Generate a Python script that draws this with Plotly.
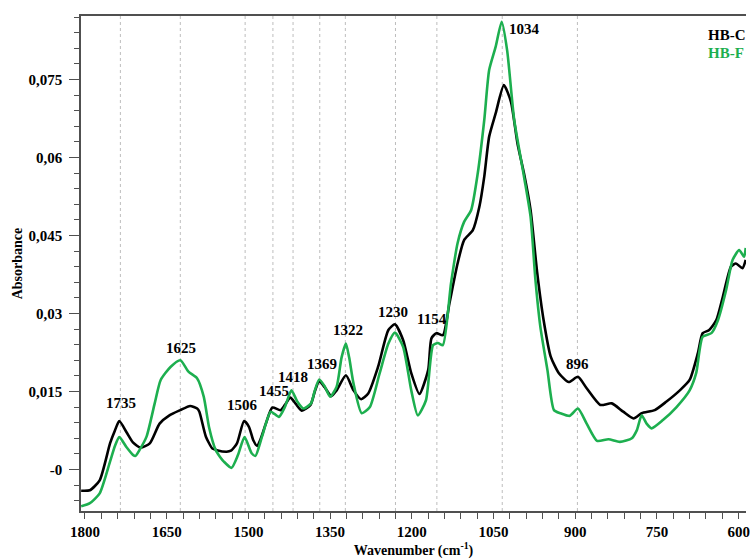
import plotly.graph_objects as go

# FTIR absorbance spectra (wavenumber in cm-1)
wn_hbc = [1807, 1791, 1773, 1754, 1745, 1737, 1724, 1712, 1698, 1681, 1663, 1645,
          1625, 1607, 1594, 1590, 1578, 1566, 1558, 1540, 1532, 1521, 1508, 1499,
          1491, 1484, 1477, 1468, 1456, 1441, 1433, 1423, 1413, 1402, 1386, 1378,
          1370, 1360, 1348, 1338, 1321, 1307, 1293, 1280, 1262, 1243, 1231, 1216,
          1201, 1186, 1170, 1164, 1155, 1143, 1131, 1116, 1104, 1088, 1076, 1067,
          1058, 1046, 1031, 1018, 1006, 994, 982, 970, 958, 945, 930, 912, 895,
          879, 854, 833, 812, 793, 778, 754, 733, 708, 690, 675, 666, 654, 641,
          629, 614, 605, 593, 587]
abs_hbc = [-0.0041, -0.0040, -0.0021, 0.0050, 0.0075, 0.0093, 0.0072, 0.0052,
           0.0042, 0.0050, 0.0088, 0.0104, 0.0114, 0.0122, 0.0117, 0.0111, 0.0063,
           0.0040, 0.0037, 0.0034, 0.0036, 0.0050, 0.0093, 0.0082, 0.0056, 0.0045,
           0.0060, 0.0088, 0.0119, 0.0114, 0.0124, 0.0138, 0.0126, 0.0113, 0.0124,
           0.0150, 0.0170, 0.0158, 0.0141, 0.0152, 0.0181, 0.0152, 0.0135, 0.0146,
           0.0197, 0.0268, 0.0279, 0.0249, 0.0185, 0.0145, 0.0191, 0.0252, 0.0262,
           0.0258, 0.0319, 0.0396, 0.0441, 0.0460, 0.0505, 0.0563, 0.0640, 0.0685,
           0.0739, 0.0707, 0.0627, 0.0569, 0.0499, 0.0380, 0.0287, 0.0217, 0.0185,
           0.0168, 0.0178, 0.0156, 0.0124, 0.0127, 0.0111, 0.0098, 0.0108, 0.0114,
           0.0130, 0.0152, 0.0172, 0.0223, 0.0262, 0.0268, 0.0287, 0.0332, 0.0390,
           0.0396, 0.0387, 0.0403]

wn_hbf = [1807, 1791, 1773, 1754, 1745, 1737, 1724, 1712, 1707, 1700, 1687, 1672,
          1661, 1643, 1625, 1610, 1594, 1582, 1572, 1560, 1552, 1545, 1531, 1519,
          1507, 1494, 1487, 1475, 1459, 1444, 1433, 1421, 1410, 1399, 1385, 1378,
          1370, 1360, 1350, 1338, 1329, 1321, 1315, 1307, 1292, 1277, 1259, 1243,
          1231, 1216, 1201, 1189, 1174, 1161, 1152, 1143, 1128, 1116, 1104, 1091,
          1079, 1067, 1058, 1046, 1035, 1025, 1012, 994, 982, 973, 964, 951, 939,
          927, 910, 895, 879, 860, 839, 818, 796, 787, 778, 769, 760, 739, 714,
          690, 678, 666, 650, 638, 623, 611, 599, 590, 587]
abs_hbf = [-0.0071, -0.0065, -0.0046, 0.0015, 0.0045, 0.0062, 0.0043, 0.0028,
           0.0026, 0.0037, 0.0063, 0.0127, 0.0172, 0.0197, 0.0210, 0.0188, 0.0175,
           0.0140, 0.0080, 0.0037, 0.0024, 0.0015, 0.0003, 0.0028, 0.0062, 0.0031,
           0.0026, 0.0063, 0.0111, 0.0101, 0.0120, 0.0152, 0.0130, 0.0117, 0.0127,
           0.0152, 0.0173, 0.0160, 0.0140, 0.0159, 0.0215, 0.0242, 0.0215, 0.0165,
           0.0108, 0.0120, 0.0185, 0.0242, 0.0263, 0.0236, 0.0152, 0.0104, 0.0133,
           0.0239, 0.0243, 0.0239, 0.0358, 0.0435, 0.0476, 0.0499, 0.0569, 0.0672,
           0.0768, 0.0813, 0.0861, 0.0806, 0.0672, 0.0563, 0.0486, 0.0364, 0.0274,
           0.0191, 0.0114, 0.0108, 0.0103, 0.0117, 0.0088, 0.0055, 0.0058, 0.0053,
           0.0060, 0.0075, 0.0104, 0.0088, 0.0079, 0.0095, 0.0120, 0.0152, 0.0185,
           0.0255, 0.0262, 0.0287, 0.0345, 0.0403, 0.0422, 0.0409, 0.0426]

# Assigned band positions and where their labels sit (absorbance units)
peaks = [1735, 1625, 1506, 1455, 1418, 1369, 1322, 1230, 1154, 1034, 896]
peak_label_y = [0.0127, 0.0234, 0.0124, 0.0151, 0.0178, 0.0202, 0.0269, 0.0302,
                0.0290, 0.0847, 0.0203]
peak_label_dx = [1, 1, -3, 1, 0, 2, 3, -2, -5, 5, 0]

y_tickvals = [0, 0.015, 0.03, 0.045, 0.06, 0.075]
y_ticktext = ["-0", "0,015", "0,03", "0,045", "0,06", "0,075"]
x_tickvals = [1800, 1650, 1500, 1350, 1200, 1050, 900, 750, 600]

series_names = ["HB-C", "HB-F"]

BLACK = "#000000"
GREEN = "#1daf4f"
SERIF = "Liberation Serif, Times New Roman, Times, serif"
AXIS = "#505050"


def bold(size, color=BLACK):
    return dict(family=SERIF, size=size, color=color, weight="bold")


fig = go.Figure()
for name, xs, ys, col in [(series_names[0], wn_hbc, abs_hbc, BLACK),
                          (series_names[1], wn_hbf, abs_hbf, GREEN)]:
    fig.add_trace(go.Scatter(x=xs, y=ys, mode="lines", name=name, showlegend=False,
                             line=dict(color=col, width=2.6, shape="spline", smoothing=0.6)))

# dotted guide lines at the band positions
for p in peaks:
    fig.add_shape(type="line", x0=p, x1=p, y0=0, y1=1, xref="x", yref="paper",
                  line=dict(color="#bdbdbd", width=1, dash="dot"), layer="below")

for p, ly, dx in zip(peaks, peak_label_y, peak_label_dx):
    fig.add_annotation(x=p, y=ly, text=str(p), showarrow=False,
                       xanchor="left" if p == 1034 else "center",
                       xshift=dx, font=bold(15))

# series key as coloured text, top right
for name, col, ypx in [(series_names[0], BLACK, 35), (series_names[1], GREEN, 53)]:
    fig.add_annotation(x=(710 - 81) / (750 - 81), y=1 - (ypx - 16) / (511 - 16),
                       xref="paper", yref="paper", xanchor="left", yanchor="middle",
                       text=name, showarrow=False, font=bold(15, col))

fig.update_layout(
    width=750, height=559, autosize=False,
    margin=dict(l=81, r=0, t=16, b=48),
    paper_bgcolor="white", plot_bgcolor="white",
    font=dict(family=SERIF, color=BLACK),
    xaxis=dict(
        range=[1807.3, 586.5], tickvals=x_tickvals, ticks="outside", ticklen=6,
        tickwidth=1.2, tickcolor=AXIS, showgrid=False, zeroline=False,
        showline=True, linecolor=AXIS, linewidth=1.5, mirror=True,
        ticklabeloverflow="allow", tickfont=bold(15),
        minor=dict(dtick=30, tick0=0, ticks="outside", ticklen=6, tickwidth=1.2,
                   tickcolor=AXIS, showgrid=False),
        title=dict(text="Wavenumber (cm<sup>-1</sup>)", standoff=9, font=bold(14)),
    ),
    yaxis=dict(
        range=[-0.0080, 0.0872], tickvals=y_tickvals, ticktext=y_ticktext,
        ticks="outside", ticklen=10, tickwidth=1.2, tickcolor=AXIS,
        showgrid=False, zeroline=False, showline=True, linecolor=AXIS,
        linewidth=1.5, ticklabelstandoff=4, tickfont=bold(15),
        minor=dict(dtick=0.003, tick0=0, ticks="outside", ticklen=5, tickwidth=1.2,
                   tickcolor=AXIS, showgrid=False),
        title=dict(text="Absorbance", standoff=3, font=bold(14)),
    ),
)

fig.write_html("out.html")
